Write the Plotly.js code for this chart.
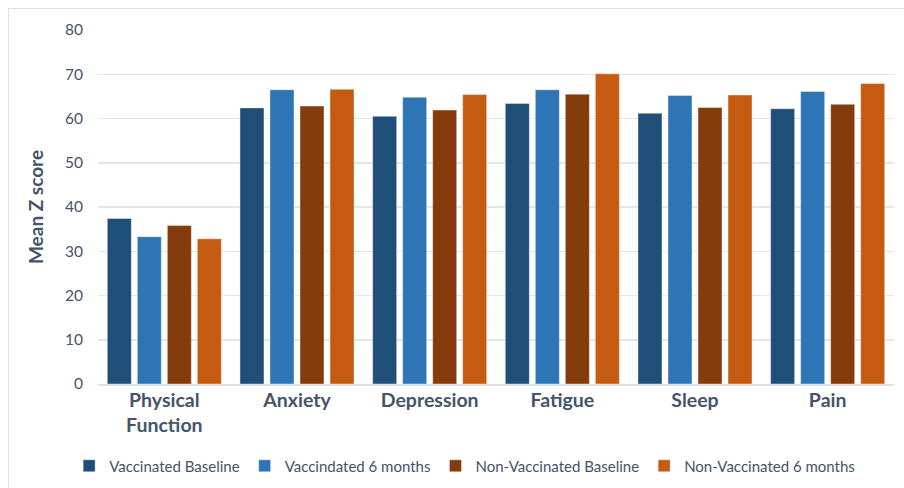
<!DOCTYPE html>
<html>
<head>
<meta charset="utf-8">
<script src="https://cdn.plot.ly/plotly-3.0.1.min.js"></script>
<style>
html,body{margin:0;padding:0;background:#fff;}
#wrap{position:relative;width:904px;height:488px;overflow:hidden;}
#frame{position:absolute;left:8px;top:8px;width:910px;height:500px;border-left:1px solid #dde3ea;border-top:1px solid #dde3ea;pointer-events:none;}
#chart{position:absolute;left:0;top:0;width:904px;height:488px;}
</style>
</head>
<body>
<div id="wrap"><div id="chart"></div><div id="frame"></div></div>
<script>
const categories = ["Physical<br>Function", "Anxiety", "Depression", "Fatigue", "Sleep", "Pain"];
const seriesNames = ["Vaccinated Baseline", "Vaccindated 6 months", "Non-Vaccinated Baseline", "Non-Vaccinated 6 months"];
const vaccinatedBaseline = [37.4, 62.4, 60.5, 63.4, 61.2, 62.2];
const vaccinated6m = [33.3, 66.5, 64.8, 66.5, 65.2, 66.1];
const nonVaccinatedBaseline = [35.8, 62.8, 61.9, 65.5, 62.5, 63.2];
const nonVaccinated6m = [32.8, 66.6, 65.4, 70.1, 65.3, 67.9];
const yTicks = [0, 10, 20, 30, 40, 50, 60, 70, 80];

const colors = ["#1F4E79", "#2E75B6", "#843C0C", "#C55A11"];
const values = [vaccinatedBaseline, vaccinated6m, nonVaccinatedBaseline, nonVaccinated6m];
const textColor = "#44546A";
const font = "Lato, 'Open Sans', sans-serif";

const traces = values.map((v, i) => ({
  type: "bar",
  name: seriesNames[i],
  x: categories,
  y: v,
  marker: {color: colors[i], line: {color: "rgba(255,255,255,0.5)", width: 0.8}},
  hoverinfo: "x+y+name"
}));

const layout = {
  width: 904, height: 488,
  margin: {l: 98, r: 10, t: 30, b: 104, autoexpand: false},
  paper_bgcolor: "#fff", plot_bgcolor: "#fff",
  barmode: "group",
  bargap: 0.095,
  bargroupgap: 0.2,
  font: {family: font, color: textColor},
  xaxis: {
    showgrid: false,
    showline: true, linecolor: "#dde2e8", linewidth: 1.5,
    ticks: "", tickfont: {size: 19.5, color: textColor, family: font, weight: "bold"},
    ticklabelstandoff: -2
  },
  yaxis: {
    range: [0, 80], tickvals: yTicks, ticktext: yTicks.map(String),
    showgrid: true, gridcolor: "#e3e7ed", gridwidth: 1.5,
    zeroline: false, showline: false, ticks: "",
    tickfont: {size: 15.5, color: textColor, family: font},
    ticklabelstandoff: 14,
    title: {text: "<b>Mean Z score</b>", font: {size: 19, color: textColor, family: font}, standoff: 16}
  },
  legend: {
    orientation: "h", xref: "container", yref: "container",
    x: 0.514, xanchor: "center", y: 0.045, yanchor: "middle",
    font: {size: 15, color: textColor, family: font},
    itemwidth: 30, traceorder: "normal"
  },
  showlegend: true
};

Plotly.newPlot("chart", traces, layout, {displayModeBar: false, staticPlot: true});
</script>
</body>
</html>
